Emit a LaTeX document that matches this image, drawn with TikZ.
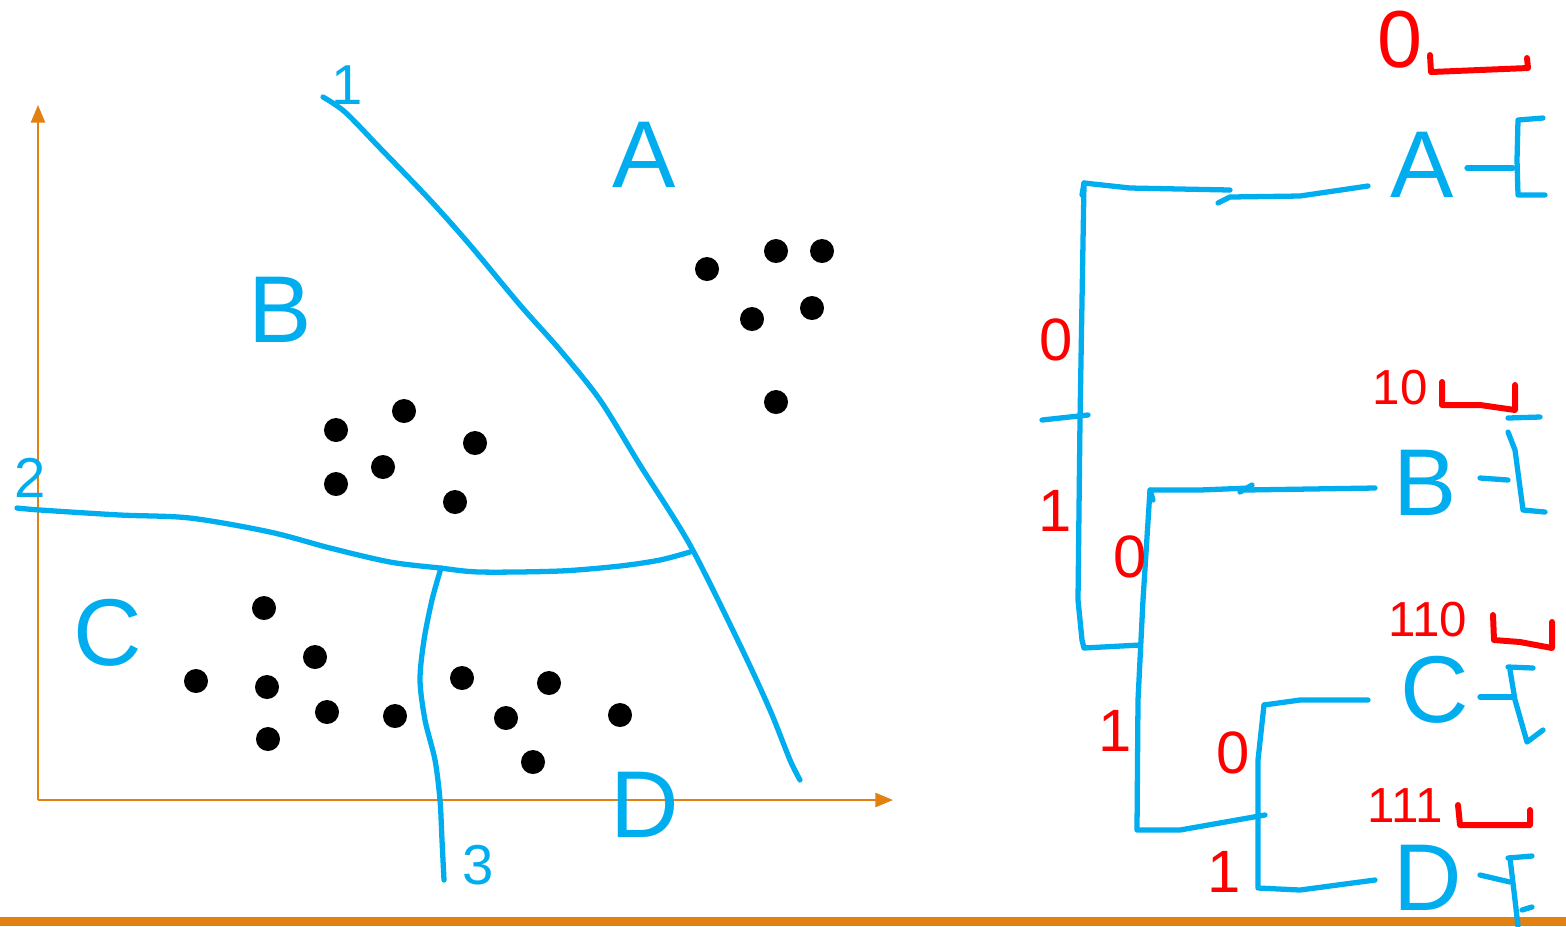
\documentclass[tikz,border=0pt]{standalone}
\usepackage{fontspec}
\setmainfont{Liberation Sans}
\usetikzlibrary{arrows.meta,positioning,calc}
\definecolor{penblue}{RGB}{0,174,239}
\definecolor{axisorange}{RGB}{226,128,18}
\definecolor{codered}{RGB}{255,0,0}

\begin{document}
\begin{tikzpicture}[
  x=0.01cm,y=-0.01cm,
  pen/.style={draw=penblue,line width=1.5pt,line cap=round,line join=round},
  redpen/.style={draw=codered,line width=1.7pt,line cap=round,line join=round},
  axis/.style={draw=axisorange,line width=0.6pt,-{Triangle[length=5pt,width=4pt]}},
  dot/.style={fill=black},
  region/.style={text=penblue,inner sep=0pt,font=\fontsize{27}{29}\selectfont},
  cutlbl/.style={text=penblue,inner sep=0pt,font=\fontsize{16}{18}\selectfont},
  code/.style={text=codered,inner sep=0pt,font=\fontsize{14}{16}\selectfont},
  bit/.style={text=codered,inner sep=0pt,font=\fontsize{17}{19}\selectfont}
]
\useasboundingbox (0,0) rectangle (1566,926);
% axes
\coordinate (O) at (38,800);
\coordinate (ytop) at (38,105);
\coordinate (xend) at (893,800);
\draw[axis] (O) -- (ytop);
\draw[axis] (O) -- (xend);
\fill[axisorange] (0,917) rectangle (1566,926);

% cuts
\draw[pen] plot[smooth] coordinates {(323,97) (345,112) (380,148) (430,200) (470,245)
  (520,305) (560,350) (600,400) (640,465) (690,545) (740,645) (770,710) (790,760) (800,780)};
\draw[pen] plot[smooth] coordinates {(17,508) (40,510) (120,515) (190,518) (270,532)
  (330,548) (390,562) (440,568) (480,572) (560,571) (620,566) (660,560) (690,552)};
\draw[pen] plot[smooth] coordinates {(441,568) (432,600) (424,640) (420,680) (425,720)
  (435,760) (440,800) (442,840) (444,880)};
\node[cutlbl] (c1) at (347,85) {1};
\node[cutlbl] (c2) at (30,478) {2};
\node[cutlbl] (c3) at (478,865) {3};

% regions
\node[region] (rA) at (644,155) {A};
\node[region] (rB) at (280,310) {B};
\node[region] (rC) at (108,633) {C};
\node[region] (rD) at (645,805) {D};

% points
\foreach \p in {(707,269),(776,251),(822,251),(752,319),(812,308),(776,402),
  (336,430),(404,411),(475,443),(336,484),(383,467),(455,502),
  (264,608),(315,657),(196,681),(267,687),(327,712),(268,739),(395,716),
  (462,678),(549,683),(506,718),(620,715),(533,762)}
  \fill[dot] \p circle[radius=0.12cm];

% tree leaves
\node[region] (lA) at (1422,165) {A};
\node[region] (lB) at (1425,483) {B};
\node[region] (lC) at (1435,690) {C};
\node[region] (lD) at (1428,878) {D};
\coordinate (eA) at (1368,186);
\coordinate (eB) at (1375,488);
\coordinate (eC) at (1368,700);
\coordinate (eD) at (1375,880);

% tree joints
\coordinate (t1) at (1084,183);
\coordinate (b1) at (1084,648);
\coordinate (t2) at (1150,490);
\coordinate (b2) at (1137,830);
\coordinate (t3) at (1264,705);
\coordinate (b3) at (1258,888);

\draw[pen] (1082,195) -- (t1) -- (1130,188) -- (1230,190);
\draw[pen] (1218,203) -- (1230,197) -- (1300,196) -- (eA);
\draw[pen] (t1) -- (1080,420) -- (1078,600) -- (1082,640) -- (b1) -- (1140,645);
\draw[pen] (1042,420) -- (1088,415);
\draw[pen] (1153,500) -- (t2) -- (1200,490) -- (1250,488);
\draw[pen] (1240,492) -- (1252,485);
\draw[pen] (1245,490) -- (eB);
\draw[pen] (t2) -- (1143,600) -- (1138,700) -- (b2) -- (1180,830) -- (1265,815);
\draw[pen] (t3) -- (1300,700) -- (eC);
\draw[pen] (t3) -- (1258,760) -- (b3) -- (1300,890) -- (eD);

% branch bits
\node[bit] (p1) at (1056,340) {0};
\node[bit] (q1) at (1055,511) {1};
\node[bit] (p2) at (1130,557) {0};
\node[bit] (q2) at (1115,731) {1};
\node[bit] (p3) at (1233,753) {0};
\node[bit] (q3) at (1224,872) {1};

% codes
\node[text=codered,inner sep=0pt,font=\fontsize{23}{25}\selectfont] (kA) at (1400,40) {0};
\node[code] (kB) at (1400,388) {10};
\node[code] (kC) at (1428,620) {110};
\node[code] (kD) at (1405,806) {111};
\draw[redpen] (1430,55) -- (1431,72) -- (1528,68) -- (1527,58);
\draw[redpen] (1442,382) -- (1442,405) -- (1480,405) -- (1515,410) -- (1515,385);
\draw[redpen] (1493,615) -- (1494,640) -- (1520,642) -- (1552,648) -- (1552,622);
\draw[redpen] (1458,805) -- (1460,825) -- (1530,825) -- (1530,810);

% bracket marks
\draw[pen] (1467,168) -- (1513,168);
\draw[pen] (1543,118) -- (1518,120) -- (1517,160) -- (1518,195) -- (1545,195);
\draw[pen] (1508,418) -- (1540,417);
\draw[pen] (1480,478) -- (1508,480);
\draw[pen] (1508,432) -- (1515,450) -- (1523,510) -- (1545,512);
\draw[pen] (1480,697) -- (1512,697);
\draw[pen] (1508,667) -- (1533,668);
\draw[pen] (1510,670) -- (1515,700) -- (1527,742) -- (1543,730);
\draw[pen] (1480,875) -- (1510,882);
\draw[pen] (1508,858) -- (1532,856);
\draw[pen] (1510,858) -- (1515,900) -- (1518,926);
\draw[pen] (1522,910) -- (1532,907);
\end{tikzpicture}
\end{document}
